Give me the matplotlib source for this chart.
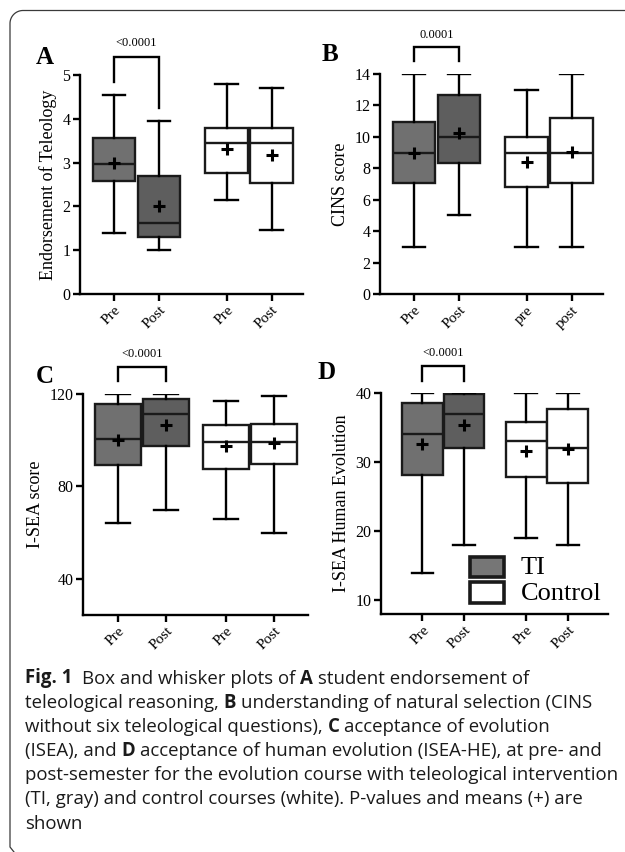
import numpy as np
import matplotlib
matplotlib.use('Agg')
import matplotlib.pyplot as plt
from matplotlib.lines import Line2D
from matplotlib.patches import Rectangle
from matplotlib import font_manager

# ---------------- data ----------------
A_labels = ['Pre', 'Post', 'Pre', 'Post']
A_whislo = [1.40, 1.00, 2.15, 1.45]
A_q1 = [2.57, 1.29, 2.77, 2.53]
A_med = [2.97, 1.62, 3.44, 3.44]
A_q3 = [3.57, 2.70, 3.78, 3.78]
A_whishi = [4.55, 3.95, 4.80, 4.70]
A_mean = [3.00, 2.00, 3.31, 3.17]
A_p = '<0.0001'

B_labels = ['Pre', 'Post', 'pre', 'post']
B_whislo = [3, 5, 3, 3]
B_q1 = [7.05, 8.32, 6.83, 7.08]
B_med = [9, 10, 9, 9]
B_q3 = [10.93, 12.67, 9.97, 11.18]
B_whishi = [14, 14, 13, 14]
B_mean = [9.0, 10.27, 8.42, 9.06]
B_p = '0.0001'

C_labels = ['Pre', 'Post', 'Pre', 'Post']
C_whislo = [64, 70, 66, 60]
C_q1 = [89.4, 97.6, 87.5, 89.8]
C_med = [100.5, 111.5, 99.3, 99.3]
C_q3 = [115.8, 117.8, 106.4, 107.0]
C_whishi = [120, 120, 116.8, 119]
C_mean = [100.2, 106.4, 97.7, 98.6]
C_p = '<0.0001'

D_labels = ['Pre', 'Post', 'Pre', 'Post']
D_whislo = [14, 18, 19, 18]
D_q1 = [28.1, 32.1, 27.9, 27.0]
D_med = [34, 37, 33, 32]
D_q3 = [38.6, 39.9, 35.8, 37.7]
D_whishi = [40, 40, 40, 40]
D_mean = [32.6, 35.3, 31.6, 31.85]
D_p = '<0.0001'

legend_labels = ['TI', 'Control']

caption_lines = [
    [("Fig. 1", True), ("  Box and whisker plots of ", False), ("A", True), (" student endorsement of", False)],
    [("teleological reasoning, ", False), ("B", True), (" understanding of natural selection (CINS", False)],
    [("without six teleological questions), ", False), ("C", True), (" acceptance of evolution", False)],
    [("(ISEA), and ", False), ("D", True), (" acceptance of human evolution (ISEA-HE), at pre- and", False)],
    [("post-semester for the evolution course with teleological intervention", False)],
    [("(TI, gray) and control courses (white). P-values and means (+) are", False)],
    [("shown", False)],
]
# approximate right ends of the caption lines in the reference (px)
caption_right = [553, 598, 545, 598, 613, 560, 81]

# ---------------- style ----------------
W, H = 625, 852
SERIF = 'Liberation Serif'
TI_PRE = '#707070'
TI_POST = '#5e5e5e'
TI_LEG = '#767676'
CTRL = '#ffffff'
EDGE = '#1a1a1a'
LW = 1.7

plt.rcParams['font.family'] = [SERIF, 'DejaVu Serif']

fig = plt.figure(figsize=(W / 100, H / 100), dpi=100)
renderer = fig.canvas.get_renderer()


def px_axes(l, t, r, b):
    return fig.add_axes([l / W, 1 - b / H, (r - l) / W, (b - t) / H])


def stats_of(whislo, q1, med, q3, whishi, mean):
    return [dict(whislo=a, q1=b, med=c, q3=d, whishi=e, mean=f, fliers=[])
            for a, b, c, d, e, f in zip(whislo, q1, med, q3, whishi, mean)]


def panel(ax, stats, labels, positions, width, xlim, ylim, yticks, ylabel,
          pval, br_top, br_l, br_r, br_text):
    fills = [TI_PRE, TI_POST, CTRL, CTRL]
    bp = ax.bxp(stats, positions=positions, widths=width, capwidths=width * 0.53,
                patch_artist=True, showmeans=True, showfliers=False,
                boxprops=dict(edgecolor=EDGE, linewidth=LW),
                medianprops=dict(color=EDGE, linewidth=LW),
                whiskerprops=dict(color='black', linewidth=LW),
                capprops=dict(color='black', linewidth=LW),
                meanprops=dict(marker='+', markeredgecolor='black',
                               markerfacecolor='black', markersize=9,
                               markeredgewidth=2.2, zorder=5))
    for patch, c in zip(bp['boxes'], fills):
        patch.set_facecolor(c)
    ax.set_xlim(*xlim)
    ax.set_ylim(*ylim)
    ax.set_yticks(yticks)
    ax.set_yticklabels([str(t) for t in yticks], fontsize=11.5)
    ax.set_xticks(positions)
    ax.set_xticklabels(labels, rotation=45, ha='right', va='top',
                       rotation_mode='anchor', fontsize=11)
    for s in ('top', 'right'):
        ax.spines[s].set_visible(False)
    for s in ('left', 'bottom'):
        ax.spines[s].set_linewidth(1.7)
    ax.tick_params(axis='both', direction='out', length=5, width=1.7, pad=2)
    ax.set_ylabel(ylabel, fontsize=13, labelpad=4)
    x1, x2 = positions[0], positions[1]
    ax.plot([x1, x1, x2, x2], [br_l, br_top, br_top, br_r], color='black',
            lw=LW, clip_on=False, solid_joinstyle='miter')
    ax.text((x1 + x2) / 2, br_text, pval, ha='center', va='center', fontsize=9,
            clip_on=False)


axA = px_axes(80, 75, 303, 294)
panel(axA, stats_of(A_whislo, A_q1, A_med, A_q3, A_whishi, A_mean), A_labels,
      [1, 2, 3.5, 4.5], 0.95, (0.244, 5.2), (0, 5), [0, 1, 2, 3, 4, 5],
      'Endorsement of Teleology', A_p, 5.40, 4.83, 4.24, 5.73)

axB = px_axes(380, 74, 603, 294)
panel(axB, stats_of(B_whislo, B_q1, B_med, B_q3, B_whishi, B_mean), B_labels,
      [1, 2, 3.5, 4.5], 0.95, (0.244, 5.2), (0, 14), [0, 2, 4, 6, 8, 10, 12, 14],
      'CINS score', B_p, 15.7, 14.83, 14.83, 16.5)

axC = px_axes(83, 394, 308, 615)
panel(axC, stats_of(C_whislo, C_q1, C_med, C_q3, C_whishi, C_mean), C_labels,
      [1, 2, 3.25, 4.25], 0.96, (0.27, 4.96), (24.4, 120), [40, 80, 120],
      'I-SEA score', C_p, 131.5, 125.5, 125.5, 137.5)

axD = px_axes(381, 393, 608, 614)
panel(axD, stats_of(D_whislo, D_q1, D_med, D_q3, D_whishi, D_mean), D_labels,
      [1, 2, 3.5, 4.5], 0.98, (0.0, 5.47), (8, 40), [10, 20, 30, 40],
      'I-SEA Human Evolution', D_p, 43.9, 41.8, 41.8, 45.8)


# legend in panel D (axes-fraction layout)
def ax_frac(px, py):
    l, t, r, b = 381, 393, 608, 614
    return (px - l) / (r - l), (b - py) / (b - t)


for (top, bot), fc, lab in zip([(556.7, 577.3), (582.3, 602.7)], [TI_LEG, CTRL], legend_labels):
    x0, y0 = ax_frac(470, bot)
    x1, y1 = ax_frac(504, top)
    axD.add_patch(Rectangle((x0, y0), x1 - x0, y1 - y0, transform=axD.transAxes,
                            facecolor=fc, edgecolor=EDGE, linewidth=2.6, zorder=6,
                            clip_on=False))
    tx, ty = ax_frac(521, (top + bot) / 2 + 1)
    axD.text(tx, ty, lab, transform=axD.transAxes, fontsize=19, ha='left',
             va='center', zorder=6)

# panel letters
for lab, x, y in [('A', 36, 64), ('B', 322, 61), ('C', 36, 383), ('D', 317, 379)]:
    fig.text(x / W, 1 - y / H, lab, fontsize=18, fontweight='bold', ha='left',
             va='baseline')

# frame: left and top edges with a rounded top-left corner
r = 13
xl, yt, yb = 10, 10.5, 850
ang = np.linspace(np.pi, 1.5 * np.pi, 20)
cx, cy = xl + r, yt + r
fx = [xl + 4, xl] + [xl] + list(cx + r * np.cos(ang)) + [W + 5]
fy = [yb + 2, yb - 3] + [cy] + list(cy + r * np.sin(ang)) + [yt]
fig.add_artist(Line2D([x / W for x in fx], [1 - y / H for y in fy],
                      transform=fig.transFigure, color='#3a3a3a', lw=0.9))


# ---------------- caption ----------------
def text_w(s, fam, size, bold):
    t = fig.text(0, 0, s, family=fam, fontsize=size,
                 fontweight='bold' if bold else 'normal')
    w = t.get_window_extent(renderer).width
    t.remove()
    return w


def space_w(fam, size, bold):
    return text_w('a a', fam, size, bold) - text_w('aa', fam, size, bold)


def seg_layout(segs, fam, size):
    out = []
    x = 0.0
    for txt, bold in segs:
        sw = space_w(fam, size, bold)
        lead = len(txt) - len(txt.lstrip(' '))
        trail = len(txt) - len(txt.rstrip(' '))
        core = txt.strip(' ')
        x += lead * sw
        out.append((x, core, bold))
        x += text_w(core, fam, size, bold) + trail * sw
    return out, x


candidates = ['Lato', 'Open Sans', 'Noto Sans', 'Roboto', 'Inter', 'Liberation Sans']
avail = {f.name for f in font_manager.fontManager.ttflist}
x0 = 25
targets = [rr - x0 for rr in caption_right]
best = None
for fam in candidates:
    if fam not in avail:
        continue
    ws = [seg_layout(segs, fam, 10)[1] for segs in caption_lines]
    s = sum(w * t for w, t in zip(ws, targets)) / sum(w * w for w in ws)
    s = min(s, (617 - x0) / max(ws))
    err = sum((s * w - t) ** 2 for w, t in zip(ws, targets))
    if best is None or err < best[0]:
        best = (err, fam, 10 * s)
_, CAP_FAM, cap_fs = best

base0 = 683.5
step = 24.2
for i, segs in enumerate(caption_lines):
    layout, _ = seg_layout(segs, CAP_FAM, cap_fs)
    for dx, core, bold in layout:
        fig.text((x0 + dx) / W, 1 - (base0 + i * step) / H, core,
                 fontsize=cap_fs, family=CAP_FAM,
                 fontweight='bold' if bold else 'normal',
                 ha='left', va='baseline', color='#1a1a1a')

fig.savefig('out.png', dpi=100)
